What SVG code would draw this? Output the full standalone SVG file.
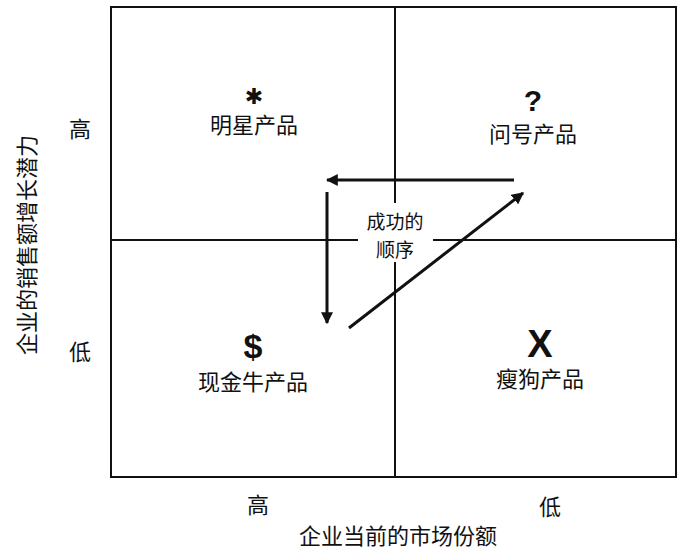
<svg xmlns="http://www.w3.org/2000/svg" width="681" height="549" viewBox="0 0 681 549">
<style>
.t{font-family:"Noto Sans CJK SC","Noto Sans",sans-serif;font-size:22px;fill:#111;text-anchor:middle;dominant-baseline:central}
.o{font-size:19px}
.s{font-family:"Liberation Sans","DejaVu Sans",sans-serif;font-weight:bold;fill:#111;text-anchor:middle;dominant-baseline:central}
.b{stroke:#111;stroke-width:2;fill:none}
.a{stroke:#111;stroke-width:3;fill:none}
</style>
<defs>
<marker id="ah" viewBox="0 0 10 10" refX="9" refY="5" markerWidth="4" markerHeight="4" orient="auto" markerUnits="strokeWidth">
<path d="M0,0 L10,5 L0,10 Z" fill="#111"/>
</marker>
</defs>
<rect width="681" height="549" fill="#fff"/>
<g id="frame">
<rect class="b" x="111" y="7" width="565" height="470"/>
<line class="b" x1="395" y1="7" x2="395" y2="203"/>
<line class="b" x1="395" y1="262" x2="395" y2="477"/>
<line class="b" x1="111" y1="240" x2="358" y2="240"/>
<line class="b" x1="433" y1="240" x2="676" y2="240"/>
</g>
<g id="star">
<text class="s" x="254" y="96" font-size="22">✱</text>
<text class="t" x="254" y="123">明星产品</text>
</g>
<g id="question">
<text class="s" x="533" y="100" font-size="30">?</text>
<text class="t" x="533" y="132">问号产品</text>
</g>
<g id="cashcow">
<text class="s" x="253" y="346" font-size="34">$</text>
<text class="t" x="253" y="380">现金牛产品</text>
</g>
<g id="dog">
<text class="s" x="540" y="344" font-size="38">X</text>
<text class="t" x="540" y="377">瘦狗产品</text>
</g>
<g id="order">
<text class="t o" x="395" y="220">成功的</text>
<text class="t o" x="395" y="248">顺序</text>
</g>
<g id="connectors">
<line class="a" x1="514" y1="180" x2="327" y2="180" marker-end="url(#ah)"/>
<line class="a" x1="327" y1="192" x2="327" y2="323" marker-end="url(#ah)"/>
<line class="a" x1="349" y1="328" x2="523" y2="193" marker-end="url(#ah)"/>
</g>
<g id="axes">
<text class="t" x="80" y="127">高</text>
<text class="t" x="80" y="350">低</text>
<text class="t" x="258" y="503">高</text>
<text class="t" x="550" y="505">低</text>
<text class="t" x="398" y="534">企业当前的市场份额</text>
<text class="t" transform="translate(25,245) rotate(-90)">企业的销售额增长潜力</text>
</g>
</svg>
